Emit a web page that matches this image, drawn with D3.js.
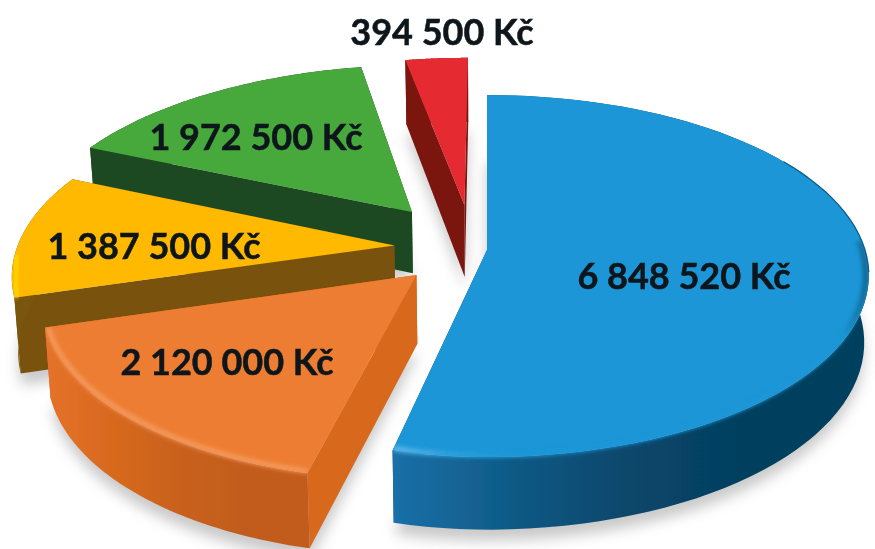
<!DOCTYPE html>
<html>
<head>
<meta charset="utf-8">
<script src="https://cdn.jsdelivr.net/npm/d3@7"></script>
<style>
  html, body { margin: 0; padding: 0; background: #fff; }
  text { font-family: Lato, "Open Sans", sans-serif; font-weight: 700; fill: #10151a; stroke: #10151a; stroke-width: 0.5px; }
</style>
</head>
<body>
<div id="chart"></div>
<script>
// values
const labels = ["6 848 520 Kč", "2 120 000 Kč", "1 387 500 Kč", "1 972 500 Kč", "394 500 Kč"];
const values = [6848520, 2120000, 1387500, 1972500, 394500];

// slice styling, same order as values
const topColors = ["#1c96d6", "#ed7d31", "#ffb900", "#47a83b", "#e62a33"];
const cutColors = ["#0b4a6e", "#d8681f", "#79530f", "#1f4a20", "#7a140f"];
const rimStops = [
  ["#1a70a8", "#0f5a86", "#08466a", "#053f5e", "#053f5e"],
  ["#e5722a", "#d8691f", "#c9621f", "#c25c1b", "#c25c1b"],
  ["#7a5510", "#7a5510", "#7a5510", "#7a5510", "#7a5510"],
  ["#1f4a20", "#1f4a20", "#1f4a20", "#1f4a20", "#1f4a20"],
  ["#7a140f", "#7a140f", "#7a140f", "#7a140f", "#7a140f"]
];
const bevelColors = ["#62bcec", "#f49a5e", "#ffd800", null, null];
const bevelFrom = [0.05, 0.25, -0.05, 0, 0]; // cos(angle) where the soft edge starts

// how far each slice is pulled out, on the ground plane
const pullX = [0, -0.183, -0.246, -0.205, -0.062];
const pullY = [0, 0.136, -0.025, -0.217, -0.258];
const radiusScale = [1, 0.96, 1, 1.03, 1.05];
const depthScale = [1, 1.03, 1.12, 0.95, 1.12];
const labelX = [684, 227, 154, 256, 442];
const labelY = [276, 362, 246, 137, 32];

const width = 875, height = 549;
const cx = 487, cy = 250, rx = 378, ry = 181, depth = 66;
const persp = 0.144, depthPersp = 0.1, bottomShrink = 0.012;

const svg = d3.select("#chart").append("svg")
  .attr("width", width)
  .attr("height", height);
const defs = svg.append("defs");

function blur(id, dev) {
  defs.append("filter").attr("id", id)
    .attr("x", "-10%").attr("y", "-10%").attr("width", "120%").attr("height", "120%")
    .append("feGaussianBlur").attr("stdDeviation", dev);
}
blur("soft", 0.55);
blur("bevel", 2.2);
blur("shadow", 7);

const scaleX = d3.scaleLinear().domain([-1, 1]).range([-rx, rx]);
const scaleY = d3.scaleLinear().domain([-1, 1]).range([-ry, ry]);

// ground plane point -> screen, with a little perspective towards the viewer
function project(gx, gy, gz) {
  const s = 1 + persp * gy;
  return [
    cx + scaleX(gx) * s * (1 - bottomShrink * gz),
    cy + scaleY(gy) * s + gz * depth * (1 + depthPersp * gy)
  ];
}

const line = d3.line();

const pie = d3.pie().sort(null).startAngle(0).endAngle(2 * Math.PI);
const slices = pie(values).map((d, i) => {
  const px = pullX[i], py = pullY[i], ds = depthScale[i], rs = radiusScale[i];
  const at = (a, r, z) => {
    let sx = Math.sin(a);
    if (i === 0 && sx < 0) sx *= 0.92; // blue corner sits a bit further in
    return project(px + rs * r * sx, py - rs * r * Math.cos(a), z * ds);
  };
  const steps = d3.range(0, 81).map(k => d.startAngle + (d.endAngle - d.startAngle) * k / 80);
  return { i, d, at, steps };
});

// soft shadow under the pieces
const shadow = svg.append("g").attr("filter", "url(#shadow)").attr("opacity", 0.4);
slices.forEach(s => {
  const pts = [s.at(0, 0, 1.15)].concat(s.steps.map(a => s.at(a, 1, 1.15)));
  shadow.append("path").attr("d", line(pts) + "Z").attr("fill", "#777");
});

const root = svg.append("g").attr("filter", "url(#soft)");

// back to front
const drawOrder = [4, 3, 2, 0, 1];
drawOrder.forEach(i => {
  const s = slices[i];
  const g = root.append("g");
  const a0 = s.d.startAngle, a1 = s.d.endAngle;

  // the two cut faces
  [a0, a1].forEach(a => {
    const quad = [s.at(a, 0, 0), s.at(a, 1, 0), s.at(a, 1, 1), s.at(a, 0, 1)];
    g.append("path").attr("d", line(quad) + "Z").attr("fill", cutColors[i]);
  });

  // outer wall
  const rimTop = s.steps.map(a => s.at(a, 1, 0));
  const rimBottom = s.steps.map(a => s.at(a, 1, 1)).reverse();
  const wallPath = line(rimTop.concat(rimBottom)) + "Z";
  const xs = rimTop.map(p => p[0]);
  const gradId = "rim" + i;
  const grad = defs.append("linearGradient").attr("id", gradId)
    .attr("gradientUnits", "userSpaceOnUse")
    .attr("x1", d3.min(xs)).attr("x2", d3.max(xs)).attr("y1", 0).attr("y2", 0);
  rimStops[i].forEach((c, k) => {
    grad.append("stop").attr("offset", k / (rimStops[i].length - 1)).attr("stop-color", c);
  });
  g.append("path").attr("d", wallPath).attr("fill", `url(#${gradId})`);

  // top face
  const face = [s.at(0, 0, 0)].concat(rimTop);
  const facePath = line(face) + "Z";
  g.append("path").attr("d", facePath).attr("fill", topColors[i]);

  // soft edge along the front of the rim, kept inside the piece
  if (bevelColors[i]) {
    const clipId = "clip" + i;
    const clip = defs.append("clipPath").attr("id", clipId);
    clip.append("path").attr("d", facePath);
    clip.append("path").attr("d", wallPath);

    const front = s.steps.filter(a => Math.cos(a) < bevelFrom[i]).map(a => s.at(a, 0.992, 0));
    const bx = front.map(p => p[0]);
    const bevId = "bev" + i;
    const bev = defs.append("linearGradient").attr("id", bevId)
      .attr("gradientUnits", "userSpaceOnUse")
      .attr("x1", d3.min(bx)).attr("x2", d3.max(bx)).attr("y1", 0).attr("y2", 0);
    bev.append("stop").attr("offset", 0).attr("stop-color", bevelColors[i]);
    if (i === 0) {
      bev.append("stop").attr("offset", 0.12).attr("stop-color", "#2fa1de");
      bev.append("stop").attr("offset", 0.25).attr("stop-color", topColors[0]);
      bev.append("stop").attr("offset", 0.95).attr("stop-color", topColors[0]);
      bev.append("stop").attr("offset", 1).attr("stop-color", "#0f5f88");
    } else {
      bev.append("stop").attr("offset", 1).attr("stop-color", bevelColors[i]);
    }
    g.append("g").attr("clip-path", `url(#${clipId})`)
      .append("path").attr("d", line(front))
      .attr("fill", "none")
      .attr("stroke", `url(#${bevId})`)
      .attr("stroke-width", 5)
      .attr("filter", "url(#bevel)");
  }

  // thin dark outline on the upper right of the blue rim
  if (i === 0) {
    const edge = s.steps.filter(a => Math.cos(a) > -0.15 && Math.cos(a) < 0.55).map(a => s.at(a, 1, 0));
    g.append("path").attr("d", line(edge))
      .attr("fill", "none")
      .attr("stroke", "#0f5f88")
      .attr("stroke-width", 1.3);
  }
});

// value labels
root.selectAll("text")
  .data(labels)
  .join("text")
  .attr("x", (d, i) => labelX[i])
  .attr("y", (d, i) => labelY[i])
  .attr("dy", "0.36em")
  .attr("text-anchor", "middle")
  .attr("font-size", 36)
  .text(d => d);
</script>
</body>
</html>
